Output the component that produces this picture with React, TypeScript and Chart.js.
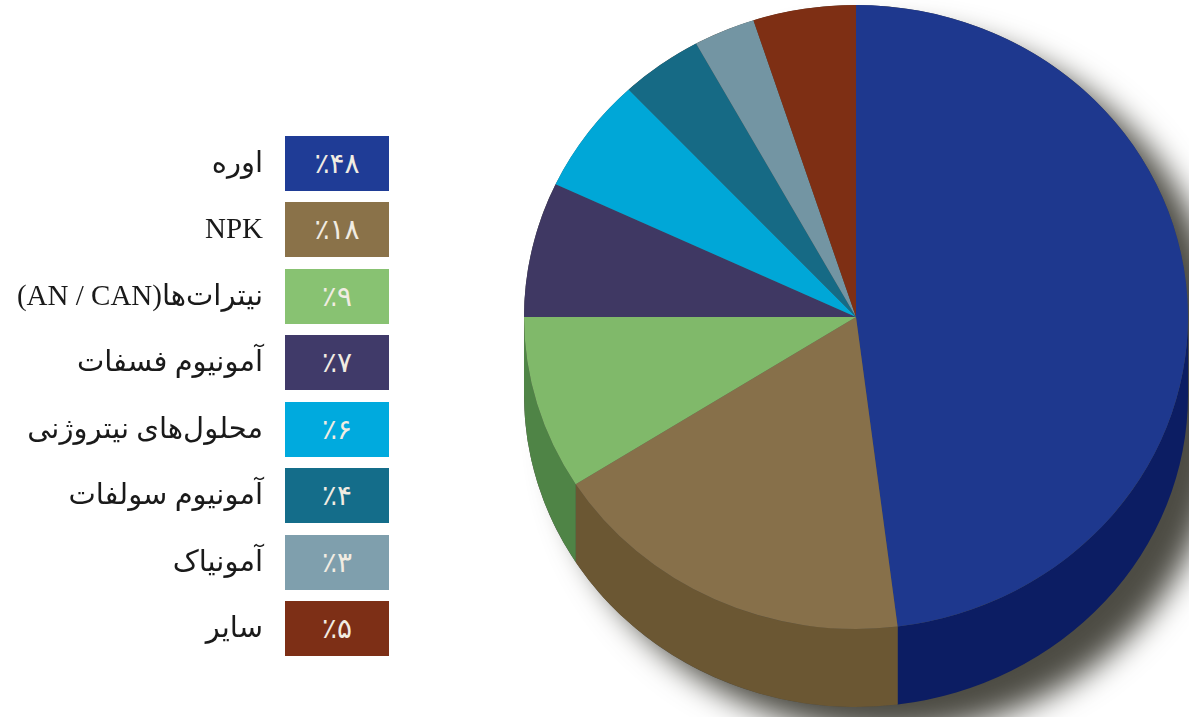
import React, { useEffect, useRef } from "react";
import { Chart, registerables } from "chart.js";

Chart.register(...registerables);

const categories = ["اوره", "NPK", "نیترات‌ها(AN / CAN)", "آمونیوم فسفات", "محلول‌های نیتروژنی", "آمونیوم سولفات", "آمونیاک", "سایر"];
const shareValues = [48, 18, 9, 7, 6, 4, 3, 5];
const shareLabels = ["٪۴۸", "٪۱۸", "٪۹", "٪۷", "٪۶", "٪۴", "٪۳", "٪۵"];
const sliceColors = ["#1e388e", "#87704a", "#80b96a", "#3f3863", "#00a7d7", "#166a85", "#7395a3", "#7e2f14"];
const swatchColors = ["#1f3c96", "#8a7249", "#88c272", "#403a69", "#00aade", "#146d8a", "#7f9fad", "#7d2f16"];
const sideColors = ["#0c1d63", "#6b5733", "#4f8446", "#2a2545", "#006f90", "#0e4658", "#4d636c", "#541f0d"];
const swatchTops = [136, 202, 269, 335, 402, 468, 535, 601];

const SCALE_X = 332 / 312;
const DEPTH = 78;

const pie3d = {
  id: "pie3d",
  beforeDatasetsDraw(chart: any) {
    const ctx = chart.ctx;
    const arcs = chart.getDatasetMeta(0).data;
    const { x: cx, y: cy, outerRadius: ry } = arcs[0];
    const rx = ry * SCALE_X;
    // drop shadow of the whole extruded silhouette
    ctx.save();
    ctx.shadowColor = "#4d4c44";
    ctx.shadowBlur = 30;
    ctx.shadowOffsetX = 32;
    ctx.shadowOffsetY = 26;
    ctx.fillStyle = "#4d4c44";
    ctx.beginPath();
    ctx.ellipse(cx, cy, rx, ry, 0, Math.PI, 2 * Math.PI);
    ctx.ellipse(cx, cy + DEPTH, rx, ry, 0, 0, Math.PI);
    ctx.closePath();
    ctx.fill();
    ctx.restore();
    // extruded side wall of the slices on the lower half
    arcs.forEach((arc: any, i: number) => {
      const a0 = Math.max(arc.startAngle, 0);
      const a1 = Math.min(arc.endAngle, Math.PI);
      if (a1 <= a0) return;
      ctx.fillStyle = sideColors[i];
      ctx.beginPath();
      ctx.ellipse(cx, cy, rx, ry, 0, a0, a1);
      ctx.ellipse(cx, cy + DEPTH, rx, ry, 0, a1, a0, true);
      ctx.closePath();
      ctx.fill();
    });
    // stretch the top face into an ellipse
    ctx.save();
    ctx.translate(cx, cy);
    ctx.scale(SCALE_X, 1);
    ctx.translate(-cx, -cy);
  },
  afterDatasetsDraw(chart: any) {
    chart.ctx.restore();
  },
};

export default function App() {
  const ref = useRef<HTMLCanvasElement>(null);
  useEffect(() => {
    const chart = new Chart(ref.current!, {
      type: "pie",
      data: {
        labels: categories,
        datasets: [{ data: shareValues, backgroundColor: sliceColors, borderWidth: 0, clip: false } as any],
      },
      options: {
        responsive: false,
        animation: false,
        layout: { padding: { left: 544, right: 21, top: 5, bottom: 88 } },
        plugins: { legend: { display: false }, tooltip: { enabled: false } },
      },
      plugins: [pie3d],
    } as any);
    return () => chart.destroy();
  }, []);

  return (
    <div style={{ position: "absolute", left: 0, top: 0, width: 1189, height: 717, overflow: "hidden", background: "#fff" }}>
      <canvas ref={ref} width={1189} height={717} style={{ position: "absolute", left: 0, top: 0 }} />
      {categories.map((name, i) => (
        <React.Fragment key={name}>
          <div
            dir="rtl"
            style={{
              position: "absolute", left: 0, width: 263, top: swatchTops[i], height: 55, lineHeight: "55px",
              textAlign: "right", whiteSpace: "nowrap", color: "#1a1a1a",
              fontFamily: '"Liberation Serif", "DejaVu Sans", serif', fontSize: 29,
              marginTop: -1,
            }}
          >
            {name}
          </div>
          <div
            style={{
              position: "absolute", left: 285, width: 104, top: swatchTops[i], height: 55, lineHeight: "55px",
              textAlign: "center", background: swatchColors[i], color: "#f1ece2",
              fontFamily: '"DejaVu Sans", sans-serif', fontSize: 28,
            }}
          >
            {shareLabels[i]}
          </div>
        </React.Fragment>
      ))}
    </div>
  );
}
